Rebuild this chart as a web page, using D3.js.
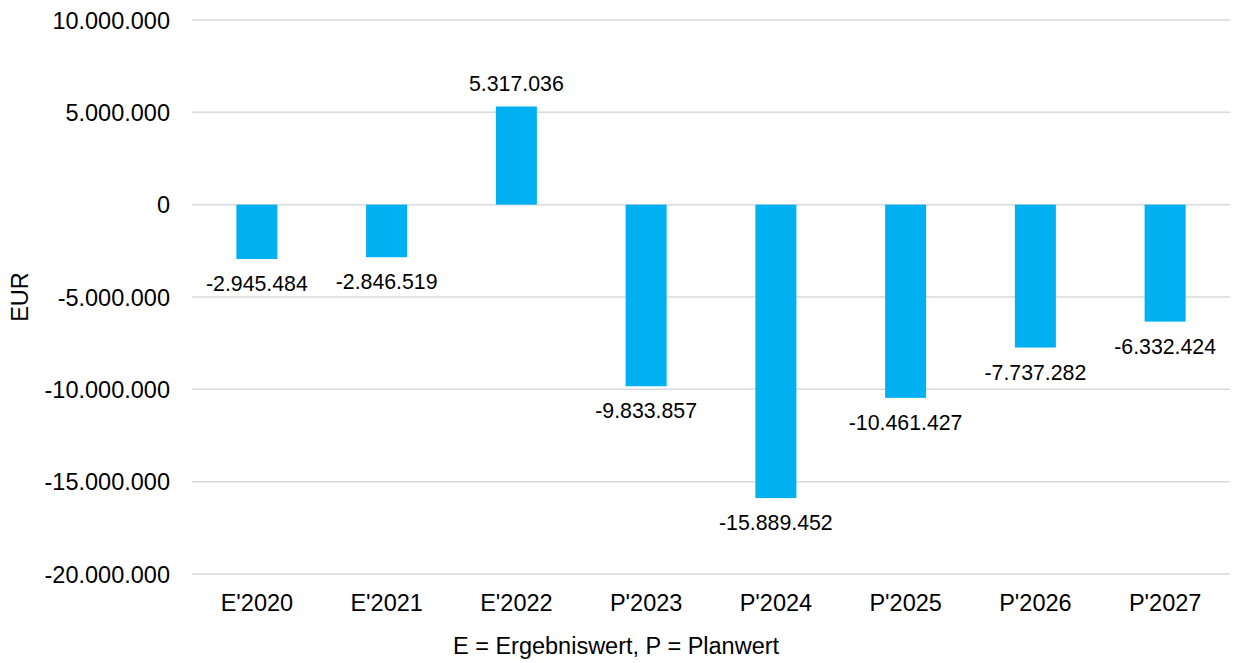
<!DOCTYPE html>
<html>
<head>
<meta charset="utf-8">
<script src="https://cdn.jsdelivr.net/npm/d3@7"></script>
<style>
  html, body { margin: 0; padding: 0; background: #fff; }
  svg { display: block; font-family: "Liberation Sans", Arial, sans-serif; }
</style>
</head>
<body>
<svg id="chart" width="1233" height="663"></svg>
<script>
const categories = ["E'2020", "E'2021", "E'2022", "P'2023", "P'2024", "P'2025", "P'2026", "P'2027"];
const values = [-2945484, -2846519, 5317036, -9833857, -15889452, -10461427, -7737282, -6332424];
const yTicks = [10000000, 5000000, 0, -5000000, -10000000, -15000000, -20000000];
const yTitle = "EUR";
const xTitle = "E = Ergebniswert, P = Planwert";

const W = 1233, H = 663;
const m = { left: 192, right: 3, top: 20, bottom: 89 };
const axisFont = 23.5, labelFont = 21.3;
const svg = d3.select("#chart");

const fmt = v => {
  const s = Math.abs(v).toString().replace(/\B(?=(\d{3})+(?!\d))/g, ".");
  return (v < 0 ? "-" : "") + s;
};

const x = d3.scaleBand().domain(categories).range([m.left, W - m.right]).paddingInner(0.684).paddingOuter(0.342);
const y = d3.scaleLinear().domain([-20000000, 10000000]).range([H - m.bottom, m.top]);

// gridlines
svg.append("g").selectAll("line").data(yTicks).join("line")
  .attr("x1", m.left).attr("x2", W - m.right)
  .attr("y1", d => y(d)).attr("y2", d => y(d))
  .attr("stroke", "#d9d9d9").attr("stroke-width", 1.5);

// y axis labels
const yAxis = d3.axisLeft(y).tickValues(yTicks).tickFormat(fmt).tickSize(0).tickPadding(22);
const ya = svg.append("g").attr("transform", `translate(${m.left},0)`).call(yAxis);
ya.select(".domain").remove();
ya.selectAll("text").attr("font-size", axisFont).attr("fill", "#000")
  .attr("dy", null).attr("dominant-baseline", "central")
  .style("font-family", "Liberation Sans, Arial, sans-serif");

// bars
svg.append("g").selectAll("rect").data(values).join("rect")
  .attr("x", (d, i) => x(categories[i]))
  .attr("width", x.bandwidth())
  .attr("y", d => y(Math.max(0, d)))
  .attr("height", d => Math.abs(y(d) - y(0)))
  .attr("fill", "#00b0f0");

// data labels
svg.append("g").selectAll("text").data(values).join("text")
  .attr("x", (d, i) => x(categories[i]) + x.bandwidth() / 2)
  .attr("y", d => d >= 0 ? y(d) - 22 : y(d) + 25)
  .attr("text-anchor", "middle")
  .attr("dominant-baseline", "central")
  .attr("font-size", labelFont)
  .attr("fill", "#000")
  .text(d => fmt(d));

// x axis labels
const xAxis = d3.axisBottom(x).tickSize(0).tickPadding(0);
const xa = svg.append("g").attr("transform", `translate(0,${y(-20000000)})`).call(xAxis);
xa.select(".domain").remove();
xa.selectAll("text").attr("font-size", axisFont).attr("fill", "#000")
  .attr("y", 29).attr("dy", null).attr("dominant-baseline", "central")
  .style("font-family", "Liberation Sans, Arial, sans-serif");

// axis titles
svg.append("text")
  .attr("transform", `translate(20,${(m.top + H - m.bottom) / 2}) rotate(-90)`)
  .attr("text-anchor", "middle").attr("dominant-baseline", "central")
  .attr("font-size", axisFont).attr("fill", "#000").text(yTitle);

svg.append("text")
  .attr("x", 616).attr("y", 646)
  .attr("text-anchor", "middle").attr("dominant-baseline", "central")
  .attr("font-size", axisFont).attr("fill", "#000").text(xTitle);
</script>
</body>
</html>
